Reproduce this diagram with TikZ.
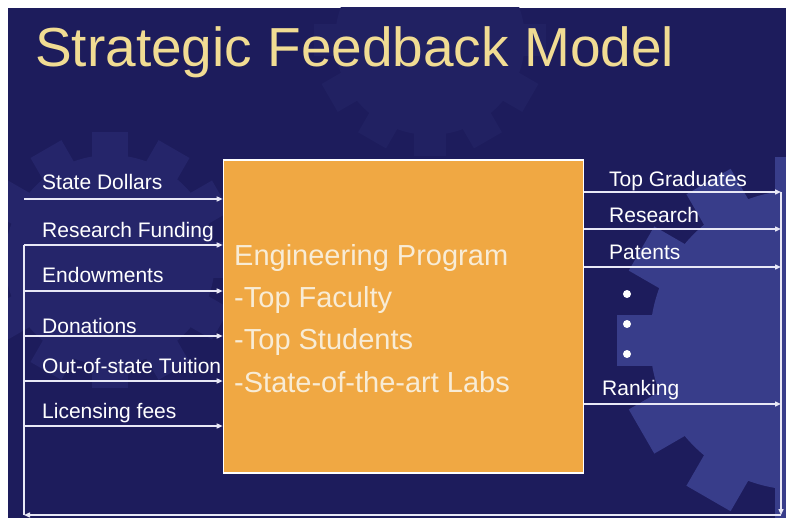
\documentclass[tikz,border=0pt]{standalone}
\usepackage{fontspec}
\setmainfont{Liberation Sans}
\usetikzlibrary{arrows.meta}
\definecolor{navy}{HTML}{1D1C5C}
\definecolor{gearA}{HTML}{383D8A}
\definecolor{gearB}{HTML}{25256A}
\definecolor{gearC}{HTML}{212162}
\definecolor{progfill}{HTML}{F0A843}
\definecolor{progtext}{HTML}{F8ECD6}
\definecolor{gold}{HTML}{F1DC93}
\definecolor{wire}{HTML}{E8E8F6}
\newcommand{\gearshape}[4]{% centre x, centre y, radius, colour
  \fill[#4] (#1,#2) circle (#3);
  \foreach \a in {0,30,...,330}
    \fill[#4, rotate around={\a:(#1,#2)}] (#1-0.17*#3,#2) rectangle (#1+0.17*#3,#2-1.22*#3);}
\begin{document}
\begin{tikzpicture}
[x=1pt, y=-1pt, >={Triangle[length=6pt,width=5pt]},
 lab/.style={anchor=base west, text=white, font=\fontsize{21}{24}\selectfont, inner sep=0pt},
 ln/.style={draw=wire, line width=1.4pt},
 dot/.style={circle, fill=white, inner sep=0pt, minimum size=8pt}]
\useasboundingbox (0,0) rectangle (786,518);
\fill[navy] (8,8) rectangle (786,518);
\begin{scope}
\clip (8,8) rectangle (786,518);
\gearshape{430}{40}{95}{gearC}
\gearshape{110}{260}{105}{gearB}
\gearshape{800}{340}{150}{gearA}
\end{scope}
% title
\node[anchor=base west, text=gold, font=\fontsize{55}{60}\selectfont, inner sep=0pt] (title) at (35,67) {Strategic Feedback Model};
% program box
\node[draw=white, line width=1.6pt, fill=progfill, minimum width=360pt, minimum height=313pt, inner sep=0pt] (prog) at (403.5,316.5) {};
\node[anchor=base west, text=progtext, align=left, font=\fontsize{29}{42.3}\selectfont, inner sep=0pt] (progtxt) at (234,392)
  {Engineering Program\\-Top Faculty\\-Top Students\\-State-of-the-art Labs};
% inputs
\foreach \y/\b/\t [count=\i] in {199/190/State Dollars, 245/238/Research Funding, 291/283/Endowments,
  336/333/Donations, 381/373/Out-of-state Tuition, 426/418/Licensing fees}{
  \coordinate (in\i) at (24,\y);
  \node[lab] (lin\i) at (42,\b) {\t};
  \draw[ln,->] (in\i) -- (in\i -| prog.west);}
% outputs
\foreach \y/\b/\x/\t [count=\i] in {192/187/609/Top Graduates, 229/223/609/Research,
  267/260/609/Patents, 404/395/602/Ranking}{
  \coordinate (out\i) at (781,\y);
  \node[lab] (lout\i) at (\x,\b) {\t};
  \draw[ln,->] (prog.east |- out\i) -- (out\i);}
\node[dot] (d1) at (627,294) {};\node[dot] (d2) at (627,324) {};\node[dot] (d3) at (627,354) {};
% feedback loop
\coordinate (br) at (781,515);\coordinate (bl) at (24,515);
\draw[ln,->] (out1) -- (br);
\draw[ln,->] (br) -- (bl);
\draw[ln] (bl) -- (in2);
\end{tikzpicture}
\end{document}
